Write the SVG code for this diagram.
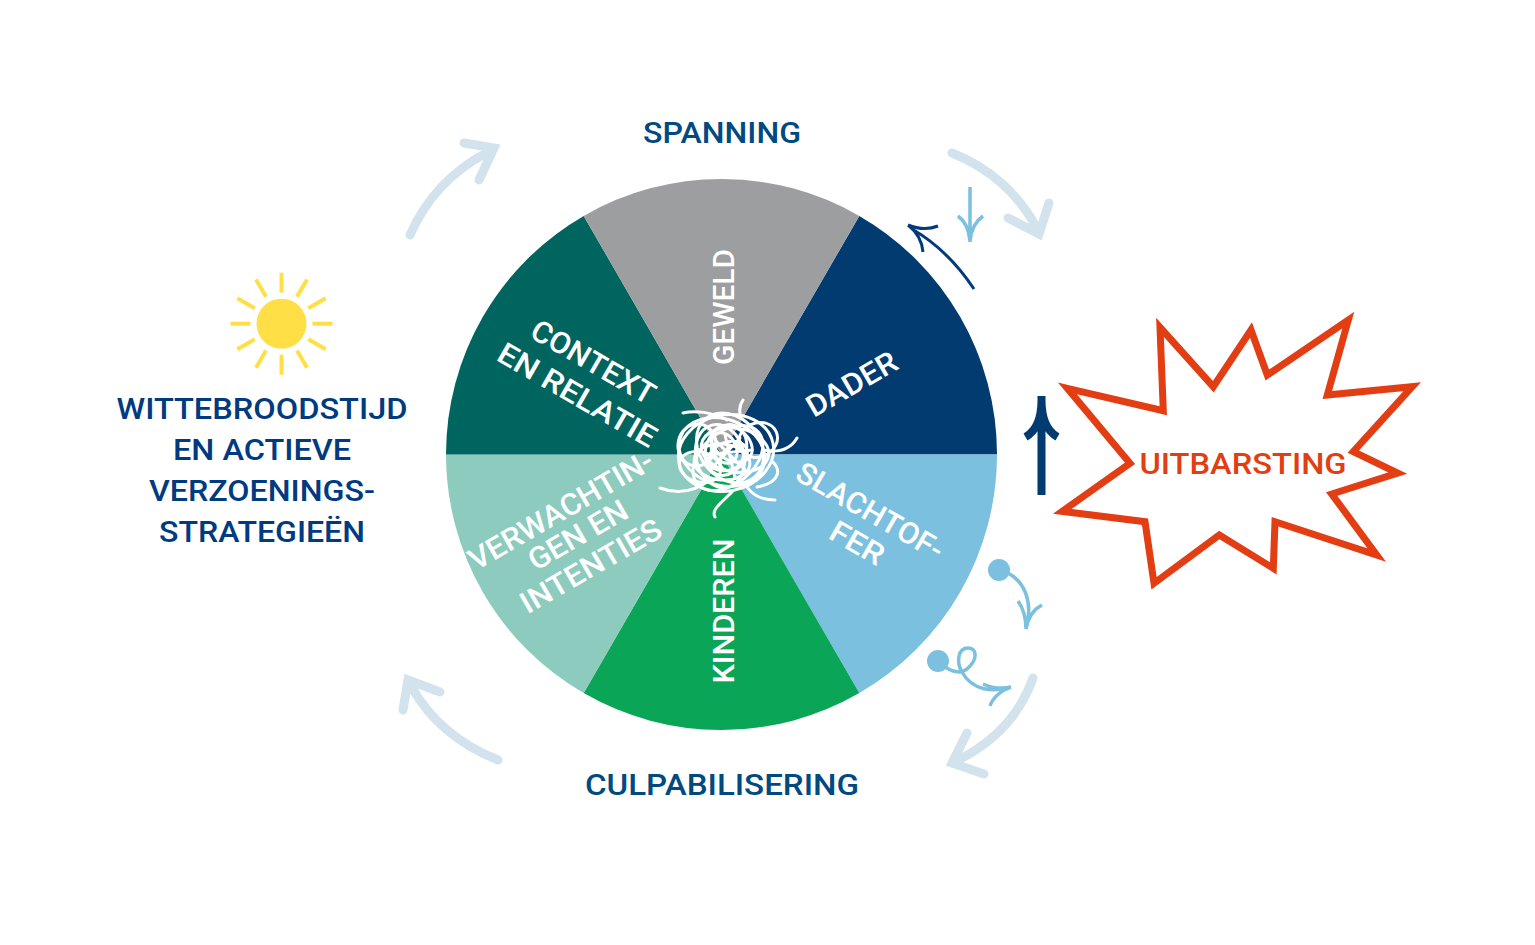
<svg xmlns="http://www.w3.org/2000/svg" width="1535" height="945" viewBox="0 0 1535 945">
<style>
text{font-family:"Roboto","Liberation Sans",sans-serif;font-weight:500;font-size:30px;text-anchor:middle}
.w{fill:#fff}
.h{fill:#004a80}
.l{fill:#003a80}
.big{fill:none;stroke:#d3e3ed;stroke-width:9;stroke-linecap:round;stroke-linejoin:miter}
.sm{fill:none;stroke:#7cc0e0;stroke-width:3.5}
.t{fill:none;stroke:#fff;stroke-width:3;stroke-linecap:round}
.ray{stroke:#ffdf45;stroke-width:4}
</style>
<rect width="1535" height="945" fill="#fff"/>
<g id="wheel">
<path fill="#013b70" d="M721.5 454.5L859.3 215.9A275.5 275.5 0 0 1 997 454.5Z"/>
<path fill="#7cc0e0" d="M721.5 454.5L997 454.5A275.5 275.5 0 0 1 859.3 693.1Z"/>
<path fill="#0aa557" d="M721.5 454.5L859.3 693.1A275.5 275.5 0 0 1 583.7 693.1Z"/>
<path fill="#8ccbbd" d="M721.5 454.5L583.7 693.1A275.5 275.5 0 0 1 446 454.5Z"/>
<path fill="#01655f" d="M721.5 454.5L446 454.5A275.5 275.5 0 0 1 583.7 215.9Z"/>
<path fill="#9d9ea0" d="M721.5 454.5L583.7 215.9A275.5 275.5 0 0 1 859.3 215.9Z"/>
</g>
<g id="segment-labels">
<text class="w" transform="translate(734 307) rotate(-90)" textLength="116" lengthAdjust="spacingAndGlyphs">GEWELD</text>
<text class="w" transform="translate(734 611) rotate(-90)" textLength="145" lengthAdjust="spacingAndGlyphs">KINDEREN</text>
<text class="w" transform="translate(857 393) rotate(-30)" textLength="100" lengthAdjust="spacingAndGlyphs">DADER</text>
<text class="w" transform="translate(865 520) rotate(30)" textLength="165" lengthAdjust="spacingAndGlyphs">SLACHTOF-</text>
<text class="w" transform="translate(852 552) rotate(30)" textLength="58" lengthAdjust="spacingAndGlyphs">FER</text>
<text class="w" transform="translate(588 371) rotate(30)" textLength="138" lengthAdjust="spacingAndGlyphs">CONTEXT</text>
<text class="w" transform="translate(572 404) rotate(30)" textLength="178" lengthAdjust="spacingAndGlyphs">EN RELATIE</text>
<text class="w" transform="translate(566 519) rotate(-30)" textLength="208" lengthAdjust="spacingAndGlyphs">VERWACHTIN-</text>
<text class="w" transform="translate(583 544) rotate(-30)" textLength="110" lengthAdjust="spacingAndGlyphs">GEN EN</text>
<text class="w" transform="translate(596 575) rotate(-30)" textLength="158" lengthAdjust="spacingAndGlyphs">INTENTIES</text>
</g>
<g id="tangle">
<path class="t" d="M683 413C695 410 712 412 727 420M743 400C739 406 739 412 741 418M797 438C790 450 778 453 763 450M715 517C711 510 720 504 732 492M775 500C764 500 754 497 747 487M660 488C678 495 695 491 710 480M773 462C784 474 774 484 757 487"/>
<ellipse class="t" cx="726" cy="453" rx="48" ry="38" transform="rotate(-12 726 453)"/>
<ellipse class="t" cx="722" cy="452" rx="44" ry="33" transform="rotate(20 722 452)"/>
<ellipse class="t" cx="730" cy="448" rx="38" ry="30" transform="rotate(50 730 448)"/>
<ellipse class="t" cx="728" cy="458" rx="40" ry="26" transform="rotate(-40 728 458)"/>
<ellipse class="t" cx="720" cy="456" rx="32" ry="24" transform="rotate(75 720 456)"/>
<ellipse class="t" cx="735" cy="450" rx="34" ry="22" transform="rotate(10 735 450)"/>
<ellipse class="t" cx="726" cy="450" rx="26" ry="20" transform="rotate(-70 726 450)"/>
<ellipse class="t" cx="722" cy="462" rx="28" ry="18" transform="rotate(5 722 462)"/>
<ellipse class="t" cx="732" cy="444" rx="22" ry="16" transform="rotate(35 732 444)"/>
<ellipse class="t" cx="728" cy="456" rx="20" ry="14" transform="rotate(-20 728 456)"/>
<ellipse class="t" cx="724" cy="448" rx="16" ry="12" transform="rotate(60 724 448)"/>
<ellipse class="t" cx="732" cy="458" rx="14" ry="10" transform="rotate(-50 732 458)"/>
<ellipse class="t" cx="700" cy="467" rx="21" ry="15" transform="rotate(15 700 467)"/>
<ellipse class="t" cx="758" cy="440" rx="20" ry="17" transform="rotate(-25 758 440)"/>
<ellipse class="t" cx="697" cy="445" rx="19" ry="21" transform="rotate(10 697 445)"/>
<path class="t" stroke-width="5" d="M715 440L745 470M740 438L712 468M725 435L735 478M705 455L752 450M735 445L745 455"/>
</g>
<g id="connectors">
<path class="big" d="M952 153C990 168 1020 195 1037 229M1049 203L1039 234L1008 218"/>
<path class="big" d="M410 235C426 199 450 172 488 152M464 143L494 148L479 180"/>
<path class="big" d="M1033 678C1020 715 995 742 956 761M967 733L952 763L984 774"/>
<path class="big" d="M498 760C460 745 430 720 411 686M440 692L408 680L403 710"/>
<path fill="none" stroke="#013b7d" stroke-width="3" d="M974 289C958 265 938 244 912 229M908 225C918 229 928 230 938 226M908 225C917 232 922 241 923 252"/>
<path class="sm" d="M970 187V242M958 216C965 221 969 230 970 241M983 216C976 221 971 230 970 241"/>
<circle cx="999" cy="570" r="11" fill="#7cc0e0"/>
<path class="sm" d="M1008 573C1023 581 1034 600 1026 629M1018 601C1023 608 1026 618 1026 629M1042 605C1034 609 1028 618 1026 629"/>
<circle cx="938" cy="661" r="11" fill="#7cc0e0"/>
<path class="sm" d="M945 667C953 672 962 674 968 668C978 659 977 648 968 648C958 648 956 662 962 672C972 690 992 693 1011 687M983 684C992 688 1002 689 1011 687M990 706C993 697 1002 690 1011 687"/>
<path fill="none" stroke="#013b70" stroke-width="8" d="M1041.5 495V396M1041.5 400C1041.5 420 1036 431 1025.500 437M1041.5 400C1041.500 420 1047 431 1057.500 437"/>
</g>
<g id="sun">
<circle cx="281.500" cy="323.700" r="25" fill="#ffdf45"/>
<g transform="translate(281.500 323.700)">
<line class="ray" y1="-31" y2="-51"/>
<line class="ray" y1="-31" y2="-51" transform="rotate(30)"/>
<line class="ray" y1="-31" y2="-51" transform="rotate(60)"/>
<line class="ray" y1="-31" y2="-51" transform="rotate(90)"/>
<line class="ray" y1="-31" y2="-51" transform="rotate(120)"/>
<line class="ray" y1="-31" y2="-51" transform="rotate(150)"/>
<line class="ray" y1="-31" y2="-51" transform="rotate(180)"/>
<line class="ray" y1="-31" y2="-51" transform="rotate(210)"/>
<line class="ray" y1="-31" y2="-51" transform="rotate(240)"/>
<line class="ray" y1="-31" y2="-51" transform="rotate(270)"/>
<line class="ray" y1="-31" y2="-51" transform="rotate(300)"/>
<line class="ray" y1="-31" y2="-51" transform="rotate(330)"/>
</g>
</g>
<g id="uitbarsting">
<polygon fill="none" stroke="#e23d13" stroke-width="7" stroke-miterlimit="12" points="1067.300,388.300 1163.300,410.700 1160,327.300 1213.300,386.700 1251,330 1267.300,375 1348.300,320 1327.300,395 1412.300,386.700 1353.300,451.700 1397.700,473 1331.700,494 1376.700,555 1275,521.700 1273.300,568.300 1219.300,535 1154,583.300 1145,521.700 1062.300,511.300 1130,463.300"/>
<text x="1243" y="473.500" fill="#e23d13" textLength="207" lengthAdjust="spacingAndGlyphs">UITBARSTING</text>
</g>
<g id="spanning"><text class="h" x="722" y="143" textLength="158" lengthAdjust="spacingAndGlyphs">SPANNING</text></g>
<g id="culpabilisering"><text class="h" x="722" y="795" textLength="274" lengthAdjust="spacingAndGlyphs">CULPABILISERING</text></g>
<g id="wittebroodstijd">
<text class="l" x="262" y="419" textLength="291" lengthAdjust="spacingAndGlyphs">WITTEBROODSTIJD</text>
<text class="l" x="262" y="460" textLength="178" lengthAdjust="spacingAndGlyphs">EN ACTIEVE</text>
<text class="l" x="262" y="501" textLength="226" lengthAdjust="spacingAndGlyphs">VERZOENINGS-</text>
<text class="l" x="262" y="542" textLength="206" lengthAdjust="spacingAndGlyphs">STRATEGIEËN</text>
</g>
</svg>
